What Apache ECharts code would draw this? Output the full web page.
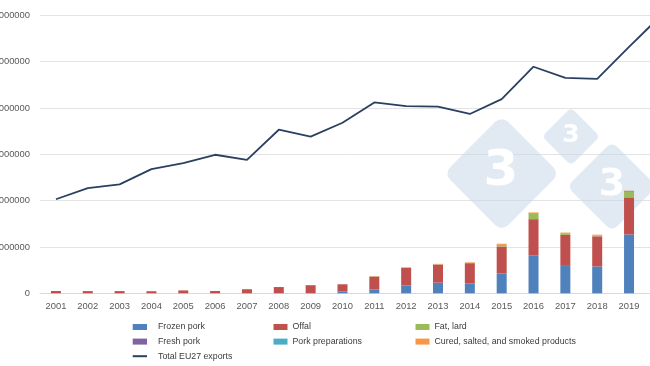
<!DOCTYPE html>
<html>
<head>
<meta charset="utf-8">
<script src="https://cdn.jsdelivr.net/npm/echarts@6/dist/echarts.min.js"></script>
<style>
html,body{margin:0;padding:0;background:#fff;}
#c{width:650px;height:366px;}
</style>
</head>
<body>
<div id="c"></div>
<script>
// ---- data (tonnes) ----
var years = ['2001','2002','2003','2004','2005','2006','2007','2008','2009','2010','2011','2012','2013','2014','2015','2016','2017','2018','2019','2020'];
var frozenPork = [0,0,0,0,0,0,0,0,0,35000,86000,170000,230000,210000,430000,820000,610000,580000,1270000,null];
var offal      = [50000,48000,48000,45000,62000,50000,88000,135000,175000,160000,275000,380000,390000,440000,580000,780000,650000,650000,800000,null];
var fatLard    = [0,0,0,0,0,0,0,0,0,0,5000,5000,5000,8000,30000,115000,20000,10000,115000,null];
var freshPork  = [0,0,0,0,0,0,0,0,0,0,0,0,0,0,5000,10000,10000,5000,15000,null];
var porkPreps  = [0,0,0,0,0,0,0,0,0,0,0,0,0,0,0,5000,0,0,10000,null];
var cured      = [0,0,0,0,0,0,0,0,0,0,5000,8000,10000,12000,25000,15000,20000,20000,5000,null];
var totalExports = [2030000,2270000,2350000,2680000,2810000,2990000,2880000,3530000,3380000,3680000,4120000,4040000,4030000,3870000,4190000,4890000,4650000,4630000,5320000,5990000];
var yTicks = {min:0, max:6000000, interval:1000000};

var chart = echarts.init(document.getElementById('c'), null, {renderer:'canvas'});

function barSeries(name, data, color){
  return {name:name, type:'bar', stack:'total', data:data, barWidth:10,
          itemStyle:{color:color}, emphasis:{disabled:true}};
}

var legendText = {fontFamily:'Liberation Sans, Arial, sans-serif', fontSize:8.8, color:'#3a3a3a', lineHeight:10};

function rotSquare(cx, cy, half, r){
  var s = half*Math.SQRT2;
  return {type:'rect', x:cx, y:cy, rotation:Math.PI/4, silent:true, z:1,
          shape:{x:-s/2, y:-s/2, width:s, height:s, r:r},
          style:{fill:'rgba(200,216,234,0.55)'}};
}
function three(cx, cy, size){
  return {type:'text', x:cx, y:cy, silent:true, z:1,
          style:{text:'3', fill:'#ffffff', font:'bold '+size+'px "DejaVu Sans", sans-serif',
                 textAlign:'center', textVerticalAlign:'middle'}};
}

var option = {
  animation:false,
  backgroundColor:'#ffffff',
  graphic:[
    rotSquare(501.7,173.5,58,9), three(501,172,50),
    rotSquare(571,136.5,29,5), three(571,135,25),
    rotSquare(612,186.5,45,7), three(612,185,38)
  ],
  grid:{left:40, right:-26.8, top:15.3, bottom:72.7, containLabel:false, outerBoundsMode:'none'},
  xAxis:{
    type:'category', data:years,
    axisLine:{lineStyle:{color:'#d9d9d9', width:1}},
    axisTick:{show:false},
    axisLabel:{color:'#595959', fontSize:9.4, fontFamily:'Liberation Sans, Arial, sans-serif', margin:9, interval:0}
  },
  yAxis:{
    type:'value', min:yTicks.min, max:yTicks.max, interval:yTicks.interval,
    axisLine:{show:false}, axisTick:{show:false},
    splitLine:{lineStyle:{color:'#e3e3e3', width:1}},
    axisLabel:{color:'#595959', fontSize:9.4, fontFamily:'Liberation Sans, Arial, sans-serif', margin:10,
               formatter:function(v){return String(v);}}
  },
  legend:[
    {orient:'vertical', left:131.7, top:322, padding:0, itemGap:4.6, itemWidth:14.3, itemHeight:6,
     data:[{name:'Frozen pork',icon:'rect'},{name:'Fresh pork',icon:'rect'},{name:'Total EU27 exports', itemStyle:{opacity:0}}],
     textStyle:Object.assign({padding:[0,0,0,6]}, legendText), selectedMode:false},
    {orient:'vertical', left:273.5, top:322, padding:0, itemGap:4.6, itemWidth:14, itemHeight:6,
     data:[{name:'Offal',icon:'rect'},{name:'Pork preparations',icon:'rect'}],
     textStyle:legendText, selectedMode:false},
    {orient:'vertical', left:415.5, top:322, padding:0, itemGap:4.6, itemWidth:14, itemHeight:6,
     data:[{name:'Fat, lard',icon:'rect'},{name:'Cured, salted, and smoked products',icon:'rect'}],
     textStyle:legendText, selectedMode:false}
  ],
  series:[
    barSeries('Frozen pork', frozenPork, '#4f81bd'),
    barSeries('Offal', offal, '#c0504d'),
    barSeries('Fat, lard', fatLard, '#9bbb59'),
    barSeries('Fresh pork', freshPork, '#8064a2'),
    barSeries('Pork preparations', porkPreps, '#4bacc6'),
    barSeries('Cured, salted, and smoked products', cured, '#f79646'),
    {name:'Total EU27 exports', type:'line', data:totalExports, symbol:'none', showSymbol:false,
     lineStyle:{color:'#2a4060', width:1.8}, itemStyle:{color:'#2a4060'}, z:5, emphasis:{disabled:true}}
  ]
};
chart.setOption(option);
</script>
</body>
</html>
